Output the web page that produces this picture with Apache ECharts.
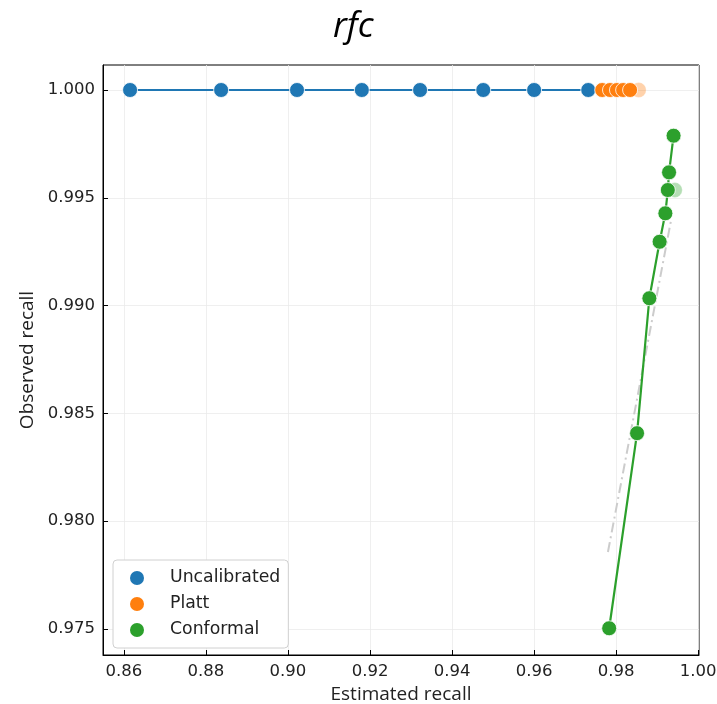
<!DOCTYPE html>
<html><head><meta charset="utf-8">
<script src="https://cdn.jsdelivr.net/npm/echarts@6/dist/echarts.min.js"></script>
<style>html,body{margin:0;padding:0;background:#fff}#c{width:717px;height:704px}</style>
</head><body><div id="c"></div>
<script>
const titleText = 'rfc';
const xTicks = [0.86, 0.88, 0.90, 0.92, 0.94, 0.96, 0.98, 1.00];
const yTicks = [0.975, 0.980, 0.985, 0.990, 0.995, 1.000];
const uncalX = [0.8615, 0.8837, 0.9022, 0.9180, 0.9322, 0.9476, 0.9600, 0.9732];
const uncalY = [1.0, 1.0, 1.0, 1.0, 1.0, 1.0, 1.0, 1.0];
const plattX = [0.9766, 0.9785, 0.9802, 0.9817, 0.9834];
const plattY = [1.0, 1.0, 1.0, 1.0, 1.0];
const plattFadedX = [0.9855];
const plattFadedY = [1.0];
const confX = [0.9783, 0.9851, 0.9881, 0.9906, 0.9920, 0.9926, 0.9929, 0.9940];
const confY = [0.97503, 0.98408, 0.99034, 0.99296, 0.99428, 0.99536, 0.99618, 0.99788];
const confFadedX = [0.9943];
const confFadedY = [0.99536];
const refX = [0.9780, 0.9934];
const refY = [0.97857, 0.99397];
const names = ['Uncalibrated', 'Platt', 'Conformal'];
const colors = ['#1f77b4', '#ff7f0e', '#2ca02c'];

const zip = (a, b) => a.map((v, i) => [v, b[i]]);
const chart = echarts.init(document.getElementById('c'));
const font = 'DejaVu Sans';
const mk = (name, xs, ys, color) => ({
  name, type: 'line', data: zip(xs, ys), symbol: 'circle', symbolSize: 15,
  lineStyle: {color, width: 2.2}, itemStyle: {color, borderColor: '#fff', borderWidth: 0.8},
  emphasis: {disabled: true}, z: 3
});
chart.setOption({
  animation: false,
  title: {text: titleText, left: 328, top: 5,
    textStyle: {fontFamily: 'Open Sans', fontStyle: 'italic', fontWeight: 'normal', fontSize: 35, color: '#000'}},
  grid: {left: 103, right: 18, top: 65, bottom: 49, outerBoundsMode: 'none', containLabel: false,
    show: true, borderColor: '#000', borderWidth: 1, backgroundColor: 'transparent'},
  legend: {
    data: names.map((n, i) => ({name: n, icon: 'circle', itemStyle: {color: colors[i], borderWidth: 0}})),
    orient: 'vertical', left: 113, bottom: 56, itemWidth: 14, itemHeight: 14, itemGap: 6,
    padding: [8, 8, 8, 17], borderColor: '#d0d0d0', borderWidth: 1, borderRadius: 4, backgroundColor: '#fff',
    textStyle: {fontFamily: font, fontSize: 17.3, color: '#222', padding: [0, 0, 0, 21], lineHeight: 20}
  },
  xAxis: {
    type: 'value', min: 0.8549, max: 1.0002,
    name: 'Estimated recall', nameLocation: 'middle', nameGap: 27,
    nameTextStyle: {fontFamily: 'Open Sans', fontSize: 19, color: '#222'},
    axisLine: {show: true, onZero: false, lineStyle: {color: '#000', width: 1}},
    axisTick: {show: true, inside: true, length: 5, customValues: xTicks, lineStyle: {color: '#000'}},
    axisLabel: {customValues: xTicks, fontFamily: font, fontSize: 16.5, color: '#222', margin: 8,
      formatter: v => v.toFixed(2)},
    splitLine: {show: true, lineStyle: {color: '#ebebeb', width: 0.8}}
  },
  yAxis: {
    type: 'value', min: 0.97379, max: 1.00116,
    name: 'Observed recall', nameLocation: 'middle', nameGap: 65,
    nameTextStyle: {fontFamily: 'Open Sans', fontSize: 19, color: '#222'},
    axisLine: {show: true, onZero: false, lineStyle: {color: '#000', width: 1}},
    axisTick: {show: true, inside: true, length: 5, customValues: yTicks, lineStyle: {color: '#000'}},
    axisLabel: {customValues: yTicks, fontFamily: font, fontSize: 16.5, color: '#222', margin: 8,
      formatter: v => v.toFixed(3)},
    splitLine: {show: true, lineStyle: {color: '#ebebeb', width: 0.8}}
  },
  series: [
    {name: 'ref', type: 'line', data: zip(refX, refY), symbol: 'none',
      lineStyle: {color: '#cccccc', width: 2, type: [10, 4, 2, 4]}, z: 2, silent: true},
    mk(names[0], uncalX, uncalY, colors[0]),
    mk(names[1], plattX, plattY, colors[1]),
    {name: 'pf', type: 'scatter', data: zip(plattFadedX, plattFadedY), symbolSize: 15,
      itemStyle: {color: colors[1], opacity: 0.35, borderColor: '#fff', borderWidth: 0.8}, z: 2, silent: true},
    {name: 'cf', type: 'scatter', data: zip(confFadedX, confFadedY), symbolSize: 15,
      itemStyle: {color: colors[2], opacity: 0.35, borderColor: '#fff', borderWidth: 0.8}, z: 2, silent: true},
    mk(names[2], confX, confY, colors[2])
  ]
});
</script></body></html>
